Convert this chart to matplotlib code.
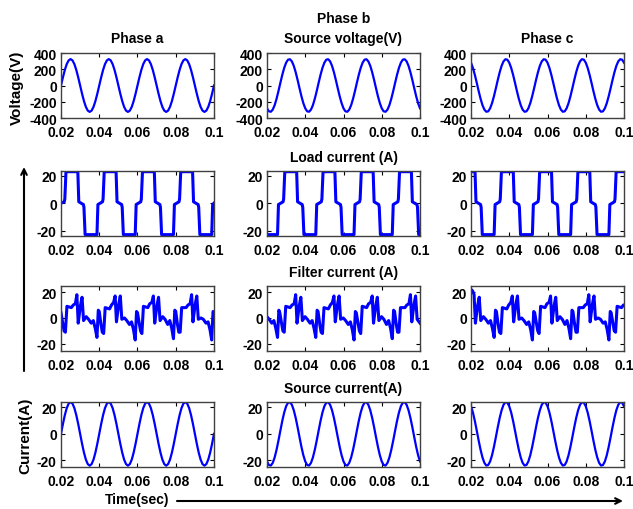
import numpy as np
import matplotlib
matplotlib.use('Agg')
import matplotlib.pyplot as plt

plt.rcParams['font.family'] = ['Liberation Sans', 'DejaVu Sans']
plt.rcParams['font.weight'] = 'bold'
plt.rcParams['font.size'] = 10
plt.rcParams['axes.unicode_minus'] = False

col_titles = ['Phase a', 'Phase b', 'Phase c']
row_titles = ['Source voltage(V)', 'Load current (A)', 'Filter current (A)', 'Source current(A)']

x_ticks = [0.02, 0.04, 0.06, 0.08, 0.1]
x_tick_labels = ['0.02', '0.04', '0.06', '0.08', '0.1']
y_ticks = [[-400, -200, 0, 200, 400], [-20, 0, 20], [-20, 0, 20], [-20, 0, 20]]
y_limits = [(-400, 400), (-24, 23.5), (-25.5, 24.7), (-25, 24)]

# source voltage / source current, one sample per ms
t_sine = [0.020, 0.021, 0.022, 0.023, 0.024, 0.025, 0.026, 0.027, 0.028, 0.029, 0.030, 0.031, 0.032, 0.033, 0.034, 0.035, 0.036, 0.037, 0.038, 0.039,
          0.040, 0.041, 0.042, 0.043, 0.044, 0.045, 0.046, 0.047, 0.048, 0.049, 0.050, 0.051, 0.052, 0.053, 0.054, 0.055, 0.056, 0.057, 0.058, 0.059,
          0.060, 0.061, 0.062, 0.063, 0.064, 0.065, 0.066, 0.067, 0.068, 0.069, 0.070, 0.071, 0.072, 0.073, 0.074, 0.075, 0.076, 0.077, 0.078, 0.079,
          0.080, 0.081, 0.082, 0.083, 0.084, 0.085, 0.086, 0.087, 0.088, 0.089, 0.090, 0.091, 0.092, 0.093, 0.094, 0.095, 0.096, 0.097, 0.098, 0.099,
          0.100]

va = [0, 100, 191, 263, 309, 325, 309, 263, 191, 100, 0, -100, -191, -263, -309, -325, -309, -263, -191, -100,
      0, 100, 191, 263, 309, 325, 309, 263, 191, 100, 0, -100, -191, -263, -309, -325, -309, -263, -191, -100,
      0, 100, 191, 263, 309, 325, 309, 263, 191, 100, 0, -100, -191, -263, -309, -325, -309, -263, -191, -100,
      0, 100, 191, 263, 309, 325, 309, 263, 191, 100, 0, -100, -191, -263, -309, -325, -309, -263, -191, -100,
      0]
vb = [-281, -318, -323, -297, -242, -163, -68, 34, 132, 217, 281, 318, 323, 297, 242, 163, 68, -34, -132, -217,
      -281, -318, -323, -297, -242, -163, -68, 34, 132, 217, 281, 318, 323, 297, 242, 163, 68, -34, -132, -217,
      -281, -318, -323, -297, -242, -163, -68, 34, 132, 217, 281, 318, 323, 297, 242, 163, 68, -34, -132, -217,
      -281, -318, -323, -297, -242, -163, -68, 34, 132, 217, 281, 318, 323, 297, 242, 163, 68, -34, -132, -217,
      -281]
vc = [281, 217, 132, 34, -68, -163, -242, -297, -323, -318, -281, -217, -132, -34, 68, 163, 242, 297, 323, 318,
      281, 217, 132, 34, -68, -163, -242, -297, -323, -318, -281, -217, -132, -34, 68, 163, 242, 297, 323, 318,
      281, 217, 132, 34, -68, -163, -242, -297, -323, -318, -281, -217, -132, -34, 68, 163, 242, 297, 323, 318,
      281, 217, 132, 34, -68, -163, -242, -297, -323, -318, -281, -217, -132, -34, 68, 163, 242, 297, 323, 318,
      281]

isa = [0, 7.4, 14.1, 19.4, 22.8, 24, 22.8, 19.4, 14.1, 7.4, 0, -7.4, -14.1, -19.4, -22.8, -24, -22.8, -19.4, -14.1, -7.4,
       0, 7.4, 14.1, 19.4, 22.8, 24, 22.8, 19.4, 14.1, 7.4, 0, -7.4, -14.1, -19.4, -22.8, -24, -22.8, -19.4, -14.1, -7.4,
       0, 7.4, 14.1, 19.4, 22.8, 24, 22.8, 19.4, 14.1, 7.4, 0, -7.4, -14.1, -19.4, -22.8, -24, -22.8, -19.4, -14.1, -7.4,
       0, 7.4, 14.1, 19.4, 22.8, 24, 22.8, 19.4, 14.1, 7.4, 0, -7.4, -14.1, -19.4, -22.8, -24, -22.8, -19.4, -14.1, -7.4,
       0]
isb = [-20.8, -23.5, -23.9, -21.9, -17.8, -12, -5, 2.5, 9.8, 16.1, 20.8, 23.5, 23.9, 21.9, 17.8, 12, 5, -2.5, -9.8, -16.1,
       -20.8, -23.5, -23.9, -21.9, -17.8, -12, -5, 2.5, 9.8, 16.1, 20.8, 23.5, 23.9, 21.9, 17.8, 12, 5, -2.5, -9.8, -16.1,
       -20.8, -23.5, -23.9, -21.9, -17.8, -12, -5, 2.5, 9.8, 16.1, 20.8, 23.5, 23.9, 21.9, 17.8, 12, 5, -2.5, -9.8, -16.1,
       -20.8, -23.5, -23.9, -21.9, -17.8, -12, -5, 2.5, 9.8, 16.1, 20.8, 23.5, 23.9, 21.9, 17.8, 12, 5, -2.5, -9.8, -16.1,
       -20.8]
isc = [20.8, 16.1, 9.8, 2.5, -5, -12, -17.8, -21.9, -23.9, -23.5, -20.8, -16.1, -9.8, -2.5, 5, 12, 17.8, 21.9, 23.9, 23.5,
       20.8, 16.1, 9.8, 2.5, -5, -12, -17.8, -21.9, -23.9, -23.5, -20.8, -16.1, -9.8, -2.5, 5, 12, 17.8, 21.9, 23.9, 23.5,
       20.8, 16.1, 9.8, 2.5, -5, -12, -17.8, -21.9, -23.9, -23.5, -20.8, -16.1, -9.8, -2.5, 5, 12, 17.8, 21.9, 23.9, 23.5,
       20.8, 16.1, 9.8, 2.5, -5, -12, -17.8, -21.9, -23.9, -23.5, -20.8, -16.1, -9.8, -2.5, 5, 12, 17.8, 21.9, 23.9, 23.5,
       20.8]

# load current breakpoints
la_t = [0.0200, 0.0217, 0.0220, 0.0226, 0.0288, 0.0293, 0.0317, 0.0320, 0.0326, 0.0388, 0.0393,
        0.0417, 0.0420, 0.0426, 0.0488, 0.0493, 0.0517, 0.0520, 0.0526, 0.0588, 0.0593,
        0.0617, 0.0620, 0.0626, 0.0688, 0.0693, 0.0717, 0.0720, 0.0726, 0.0788, 0.0793,
        0.0817, 0.0820, 0.0826, 0.0888, 0.0893, 0.0917, 0.0920, 0.0926, 0.0988, 0.0993, 0.1000]
la_v = [0, 1, 3, 23, 23, 1, -1, -3, -23, -23, -1,
        1, 3, 23, 23, 1, -1, -3, -23, -23, -1,
        1, 3, 23, 23, 1, -1, -3, -23, -23, -1,
        1, 3, 23, 23, 1, -1, -3, -23, -23, -1, 0]
lb_t = [0.0200, 0.0255, 0.0260, 0.0284, 0.0287, 0.0293, 0.0355, 0.0360, 0.0384, 0.0387, 0.0393, 0.0455, 0.0460,
        0.0484, 0.0487, 0.0493, 0.0555, 0.0560, 0.0584, 0.0587, 0.0593, 0.0655, 0.0660,
        0.0684, 0.0687, 0.0693, 0.0755, 0.0760, 0.0784, 0.0787, 0.0793, 0.0855, 0.0860,
        0.0884, 0.0887, 0.0893, 0.0955, 0.0960, 0.0984, 0.0987, 0.0993, 0.1000]
lb_v = [-23, -23, -1, 1, 3, 23, 23, 1, -1, -3, -23, -23, -1,
        1, 3, 23, 23, 1, -1, -3, -23, -23, -1,
        1, 3, 23, 23, 1, -1, -3, -23, -23, -1,
        1, 3, 23, 23, 1, -1, -3, -23, -23]
lc_t = [0.0200, 0.0221, 0.0226, 0.0250, 0.0253, 0.0259, 0.0321, 0.0326,
        0.0350, 0.0353, 0.0359, 0.0421, 0.0426, 0.0450, 0.0453, 0.0459, 0.0521, 0.0526,
        0.0550, 0.0553, 0.0559, 0.0621, 0.0626, 0.0650, 0.0653, 0.0659, 0.0721, 0.0726,
        0.0750, 0.0753, 0.0759, 0.0821, 0.0826, 0.0850, 0.0853, 0.0859, 0.0921, 0.0926,
        0.0950, 0.0953, 0.0959, 0.1000]
lc_v = [23, 23, 1, -1, -3, -23, -23, -1,
        1, 3, 23, 23, 1, -1, -3, -23, -23, -1,
        1, 3, 23, 23, 1, -1, -3, -23, -23, -1,
        1, 3, 23, 23, 1, -1, -3, -23, -23, -1,
        1, 3, 23, 23]

# filter current breakpoints
fa_t = [0.0200, 0.0209, 0.0216, 0.0223, 0.0231, 0.0254, 0.0264, 0.0275, 0.0283, 0.0290, 0.0301, 0.0310, 0.0318, 0.0332, 0.0344, 0.0358, 0.0369, 0.0379, 0.0388, 0.0395,
        0.0400, 0.0409, 0.0416, 0.0423, 0.0431, 0.0454, 0.0464, 0.0475, 0.0483, 0.0490, 0.0501, 0.0510, 0.0518, 0.0532, 0.0544, 0.0558, 0.0569, 0.0579, 0.0588, 0.0595,
        0.0600, 0.0609, 0.0616, 0.0623, 0.0631, 0.0654, 0.0664, 0.0675, 0.0683, 0.0690, 0.0701, 0.0710, 0.0718, 0.0732, 0.0744, 0.0758, 0.0769, 0.0779, 0.0788, 0.0795,
        0.0800, 0.0809, 0.0816, 0.0823, 0.0831, 0.0854, 0.0864, 0.0875, 0.0883, 0.0890, 0.0901, 0.0910, 0.0918, 0.0932, 0.0944, 0.0958, 0.0969, 0.0979, 0.0988, 0.0995,
        0.1000]
fa_v = [4, -4, -10, -11, 9, 8, 10, 11, 18, -4, 9, 16, -2, 1, -1, -4, -2, -8, -15, 6,
        5, -5, -11, -12, 8, 7, 10, 12, 17, -3, 10, 17, -1, 0, -2, -5, -3, -9, -17, 5,
        4, -4, -10, -12, 9, 8, 11, 12, 17, -4, 9, 16, -2, 1, -1, -5, -2, -8, -16, 6,
        5, -5, -11, -11, 8, 8, 10, 11, 18, -3, 10, 17, -1, 0, -1, -4, -3, -9, -17, 5,
        4]
fb_t = [0.0200, 0.0211, 0.0225, 0.0236, 0.0246, 0.0255, 0.0262,
        0.0267, 0.0276, 0.0283, 0.0290, 0.0298, 0.0321, 0.0331, 0.0342, 0.0350, 0.0357, 0.0368, 0.0377, 0.0385, 0.0399, 0.0411, 0.0425, 0.0436, 0.0446, 0.0455, 0.0462,
        0.0467, 0.0476, 0.0483, 0.0490, 0.0498, 0.0521, 0.0531, 0.0542, 0.0550, 0.0557, 0.0568, 0.0577, 0.0585, 0.0599, 0.0611, 0.0625, 0.0636, 0.0646, 0.0655, 0.0662,
        0.0667, 0.0676, 0.0683, 0.0690, 0.0698, 0.0721, 0.0731, 0.0742, 0.0750, 0.0757, 0.0768, 0.0777, 0.0785, 0.0799, 0.0811, 0.0825, 0.0836, 0.0846, 0.0855, 0.0862,
        0.0867, 0.0876, 0.0883, 0.0890, 0.0898, 0.0921, 0.0931, 0.0942, 0.0950, 0.0957, 0.0968, 0.0977, 0.0985, 0.1000]
fb_v = [1, -1, -4, -2, -8, -15, 6,
        4, -4, -10, -11, 9, 8, 10, 11, 18, -4, 9, 16, -2, 1, -1, -4, -2, -8, -15, 6,
        5, -5, -11, -12, 8, 7, 10, 12, 17, -3, 10, 17, -1, 0, -2, -5, -3, -9, -17, 5,
        4, -4, -10, -12, 9, 8, 11, 12, 17, -4, 9, 16, -2, 1, -1, -5, -2, -8, -16, 6,
        5, -5, -11, -11, 8, 8, 10, 11, 18, -3, 10, 17, -1, -4]
fc_t = [0.0200, 0.0208, 0.0216, 0.0223, 0.0234, 0.0243, 0.0251, 0.0265, 0.0277, 0.0291, 0.0302, 0.0312, 0.0321, 0.0328,
        0.0333, 0.0342, 0.0349, 0.0356, 0.0364, 0.0387, 0.0397, 0.0408, 0.0416, 0.0423, 0.0434, 0.0443, 0.0451, 0.0465, 0.0477, 0.0491, 0.0502, 0.0512, 0.0521, 0.0528,
        0.0533, 0.0542, 0.0549, 0.0556, 0.0564, 0.0587, 0.0597, 0.0608, 0.0616, 0.0623, 0.0634, 0.0643, 0.0651, 0.0665, 0.0677, 0.0691, 0.0702, 0.0712, 0.0721, 0.0728,
        0.0733, 0.0742, 0.0749, 0.0756, 0.0764, 0.0787, 0.0797, 0.0808, 0.0816, 0.0823, 0.0834, 0.0843, 0.0851, 0.0865, 0.0877, 0.0891, 0.0902, 0.0912, 0.0921, 0.0928,
        0.0933, 0.0942, 0.0949, 0.0956, 0.0964, 0.0987, 0.0997, 0.1000]
fc_v = [22, 21, 18, -4, 9, 16, -2, 1, -1, -4, -2, -8, -15, 6,
        5, -5, -11, -12, 8, 7, 10, 12, 17, -3, 10, 17, -1, 0, -2, -5, -3, -9, -17, 5,
        4, -4, -10, -12, 9, 8, 11, 12, 17, -4, 9, 16, -2, 1, -1, -5, -2, -8, -16, 6,
        5, -5, -11, -11, 8, 8, 10, 11, 18, -3, 10, 17, -1, 0, -1, -4, -3, -9, -17, 5,
        4, -4, -10, -11, 9, 8, 10, 10]

series = [
    [(t_sine, va), (t_sine, vb), (t_sine, vc)],
    [(la_t, la_v), (lb_t, lb_v), (lc_t, lc_v)],
    [(fa_t, fa_v), (fb_t, fb_v), (fc_t, fc_v)],
    [(t_sine, isa), (t_sine, isb), (t_sine, isc)],
]
line_widths = [1.6, 2.2, 2.2, 1.6]

W, H = 633., 510.
col_left = [61, 267, 471]
col_width = 153
row_top = [54, 172, 287, 403]
row_height = 65

fig = plt.figure(figsize=(6.33, 5.10), dpi=100)

for r in range(4):
    for c in range(3):
        ax = fig.add_axes([col_left[c] / W, 1 - (row_top[r] + row_height) / H,
                           col_width / W, row_height / H])
        t, v = series[r][c]
        ax.plot(t, v, color='#0000ff', lw=line_widths[r])
        ax.set_xlim(0.02, 0.1)
        ax.set_ylim(*y_limits[r])
        ax.set_xticks(x_ticks)
        ax.set_xticklabels(x_tick_labels)
        ax.set_yticks(y_ticks[r])
        ax.set_yticklabels([str(y) for y in y_ticks[r]])
        ax.tick_params(direction='in', top=True, right=True, length=3, width=0.8,
                       labelsize=10, colors='black')
        ax.tick_params(axis='x', pad=5)
        ax.tick_params(axis='y', pad=3)
        for s in ax.spines.values():
            s.set_color('#404040')
            s.set_linewidth(1.0)
        if r == 0:
            title = col_titles[c] if c != 1 else col_titles[c] + '\n' + row_titles[0]
            ax.set_title(title, fontsize=10, fontweight='bold', pad=8, linespacing=1.5)
        elif c == 1:
            ax.set_title(row_titles[r], fontsize=10, fontweight='bold', pad=7)

fig.text(17 / W, 1 - 88 / H, 'Voltage(V)', rotation=90, ha='center', va='center',
         fontsize=11, fontweight='bold')
fig.text(25 / W, 1 - 436 / H, 'Current(A)', rotation=90, ha='center', va='center',
         fontsize=11, fontweight='bold')
fig.text(137 / W, 1 - 500 / H, 'Time(sec)', ha='center', va='center',
         fontsize=10, fontweight='bold')

fig.add_artist(plt.Annotation('', xy=(623 / W, 1 - 502 / H), xytext=(177 / W, 1 - 502 / H),
                              xycoords='figure fraction', textcoords='figure fraction',
                              arrowprops=dict(arrowstyle='->', lw=1.5, color='black',
                                              shrinkA=0, shrinkB=0)))
fig.add_artist(plt.Annotation('', xy=(24 / W, 1 - 168 / H), xytext=(24 / W, 1 - 372 / H),
                              xycoords='figure fraction', textcoords='figure fraction',
                              arrowprops=dict(arrowstyle='->', lw=1.5, color='black',
                                              shrinkA=0, shrinkB=0)))

fig.savefig('out.png', dpi=100, facecolor='white')
